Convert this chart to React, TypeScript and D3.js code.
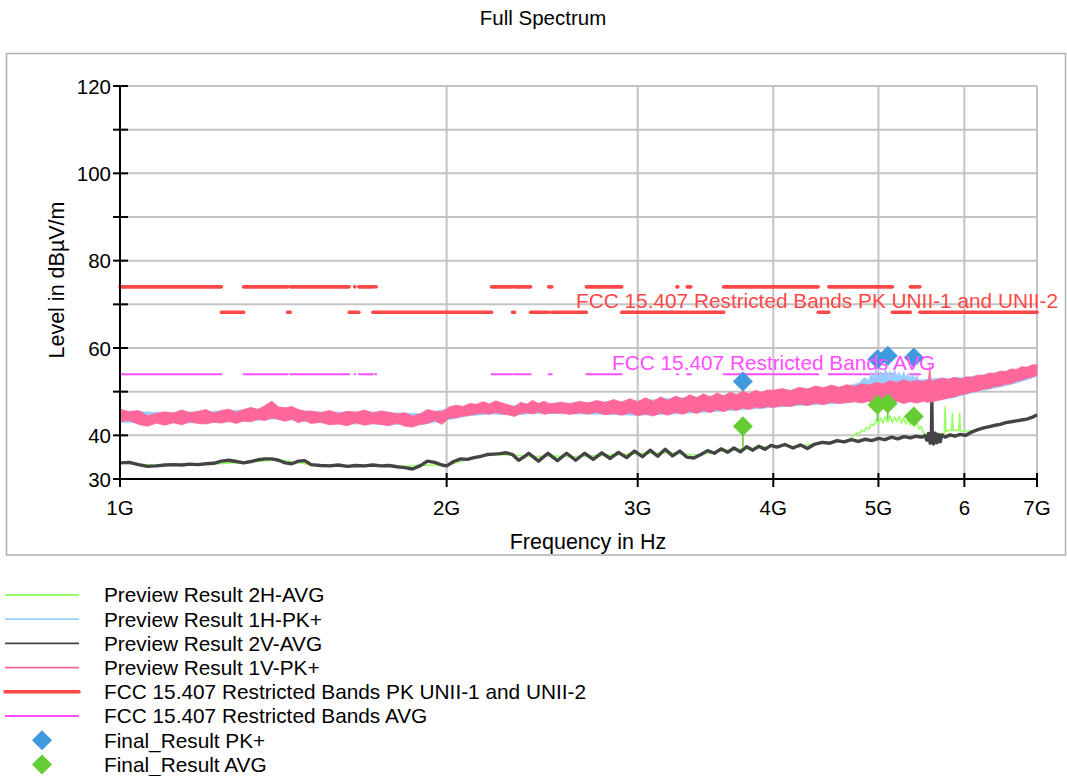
import React from "react";
import * as d3 from "d3";

// ---------- data ----------
const TITLE = "Full Spectrum";
const X_TITLE = "Frequency in Hz";
const Y_TITLE = "Level in dBµV/m";
const X_TICKS_HZ = [1e9, 2e9, 3e9, 4e9, 5e9, 6e9, 7e9];
const X_TICK_LABELS = ["1G", "2G", "3G", "4G", "5G", "6", "7G"];
const Y_TICKS = [30, 40, 50, 60, 70, 80, 90, 100, 110, 120];
const Y_LABELED = [30, 40, 60, 80, 100, 120];

// FCC 15.205 restricted bands (GHz)
const RESTRICTED_BANDS_GHZ: [number, number][] = [
  [0.96, 1.24], [1.3, 1.427], [1.435, 1.6265], [1.6455, 1.6465], [1.66, 1.71],
  [1.7188, 1.7222], [2.2, 2.3], [2.31, 2.39], [2.4835, 2.5], [2.69, 2.9],
  [3.26, 3.267], [3.332, 3.339], [3.3458, 3.358], [3.6, 4.4], [4.5, 5.15],
  [5.35, 5.46], [7.25, 7.75],
];
const PK_LIMIT_RESTRICTED = 74;
const PK_LIMIT_UNII = 68.2;
const AVG_LIMIT = 54;
const PK_LIMIT_LABEL = "FCC 15.407 Restricted Bands PK UNII-1 and UNII-2";
const AVG_LIMIT_LABEL = "FCC 15.407 Restricted Bands AVG";

// Preview Result 1V-PK+  [MHz, low, high]
const PINK_1V_PK: [number, number, number][] = [
  [1000,43.2,46.0],[1020,43.4,45.4],[1040,42.5,45.7],[1060,42.1,44.5],[1080,42.8,45.0],[1100,42.3,45.4],
  [1120,42.9,45.1],[1140,42.4,45.8],[1160,43.1,45.2],[1180,42.7,45.5],[1200,42.6,45.9],[1220,43.0,45.1],
  [1240,42.8,45.7],[1260,43.2,46.0],[1280,42.7,45.3],[1300,43.3,45.9],[1320,43.1,46.4],[1340,43.7,45.9],
  [1360,43.4,46.8],[1380,44.0,47.8],[1400,43.6,46.5],[1420,43.2,46.3],[1440,43.7,46.6],[1460,42.9,45.9],
  [1480,43.4,45.5],[1500,42.7,45.6],
  [1530,43.0,45.2],[1560,42.4,45.7],[1590,42.6,45.0],[1620,42.2,45.5],[1650,42.9,45.3],[1680,42.3,45.8],
  [1710,42.7,45.1],[1740,42.5,45.6],[1770,42.2,45.3],[1800,42.8,44.9],[1830,42.1,45.2],[1860,41.9,44.4],
  [1890,42.5,44.9],[1920,42.7,45.9],[1950,43.4,45.5],[1980,42.5,45.4],[2010,43.9,46.5],[2040,44.0,46.9],
  [2070,44.4,46.6],[2100,44.6,47.3],[2130,44.9,47.1],[2160,45.1,47.7],[2190,44.8,47.2],[2220,45.3,47.9],
  [2250,44.9,47.4],[2280,44.7,47.0],[2310,44.3,46.5],[2340,45.0,47.6],[2370,45.2,47.1],[2400,44.9,48.0],
  [2430,45.4,47.3],[2460,44.8,47.8],[2490,45.1,47.2],
  [2550,45.1,47.6],[2600,44.8,47.2],[2650,45.2,47.8],[2700,44.9,47.4],[2750,45.3,48.0],[2800,44.7,47.5],
  [2850,45.0,48.2],[2900,44.6,47.6],[2950,45.2,48.4],[3000,44.5,47.7],[3050,44.9,48.6],[3100,44.4,47.8],
  [3150,45.1,48.8],[3200,44.6,48.0],[3250,45.3,49.0],[3300,44.8,48.3],[3350,45.5,49.3],[3400,45.0,48.6],
  [3450,45.7,49.5],[3500,45.2,48.8],[3550,45.9,49.7],[3600,45.4,49.0],[3650,46.1,49.9],[3700,45.7,49.3],
  [3750,46.3,50.1],[3800,45.9,49.5],[3850,46.5,50.3],[3900,46.2,49.8],[3950,46.6,50.4],
  [4000,46.4,50.3],[4075,46.8,50.7],[4150,46.6,50.2],[4225,47.2,51.0],[4300,46.8,50.6],[4375,47.4,51.3],
  [4450,47.0,50.9],[4525,47.6,51.5],[4600,47.3,51.0],[4675,47.5,51.6],[4750,47.7,51.2],[4825,47.4,51.8],
  [4900,47.8,51.5],[4975,47.3,52.1],[5050,47.7,51.8],[5125,47.4,52.5],[5200,47.8,52.1],[5275,47.3,52.7],
  [5350,47.7,52.2],[5425,47.4,52.6],[5500,47.8,52.3],[5560,47.5,52.8],[5575,47.8,55.8],[5590,47.6,52.4],
  [5650,47.9,52.7],[5725,48.2,53.1],[5800,48.6,52.8],[5875,48.8,53.3],[5950,49.3,52.9],[6025,49.5,53.4],
  [6100,50.0,53.3],[6175,50.1,53.8],[6250,50.6,53.7],[6325,50.7,54.3],[6400,51.2,54.2],[6475,51.3,54.7],
  [6550,51.7,54.6],[6625,51.8,55.2],[6700,52.4,55.1],[6775,52.6,55.7],[6850,53.1,55.6],[6925,53.3,56.1],
  [7000,53.8,56.2],
];

// Preview Result 1H-PK+  [MHz, low, high]
const BLUE_1H_PK: [number, number, number][] = [
  [1000,43.0,45.6],[1100,42.8,45.2],[1200,42.9,45.4],[1300,43.2,45.8],[1400,43.8,46.5],[1500,43.0,45.4],
  [1600,42.6,45.3],[1700,42.6,45.4],[1800,42.5,45.1],[1900,42.5,45.0],[2000,43.5,46.0],[2100,44.5,46.8],
  [2200,44.9,47.1],[2300,44.6,46.8],[2400,45.0,47.4],[2500,45.0,47.3],[2600,44.9,47.4],[2800,44.8,47.7],
  [3000,44.6,47.9],[3200,44.8,48.4],[3400,45.2,48.8],[3600,45.6,49.2],[3800,46.0,49.6],[4000,46.4,50.0],
  [4200,46.8,50.5],[4400,47.1,50.8],[4600,47.3,51.0],[4700,47.5,51.4],[4800,47.8,52.0],[4850,48.0,53.2],
  [4900,48.2,52.6],[4925,48.3,54.4],[4950,48.5,53.1],[4975,48.5,54.9],[5000,48.8,53.3],[5025,48.7,54.6],
  [5050,48.6,53.5],[5075,48.8,55.2],[5100,48.9,53.6],[5125,48.8,54.8],[5150,48.7,53.4],[5175,48.8,54.9],
  [5200,48.8,53.6],[5225,48.6,54.5],[5250,48.5,53.3],[5275,48.6,54.6],[5300,48.7,53.2],[5325,48.5,54.2],
  [5350,48.4,53.0],[5375,48.5,54.0],[5400,48.6,53.0],[5425,48.4,53.6],[5450,48.3,52.6],[5500,48.0,52.8],
  [5600,48.0,52.9],[5700,48.2,53.1],[5800,48.4,53.0],[5900,48.8,53.3],[6000,49.3,53.1],[6100,49.7,53.5],
  [6300,50.5,54.0],[6500,51.2,54.5],[6700,52.0,55.0],[7000,53.5,55.8],
];

// Preview Result 2V-AVG  [MHz, level]
const DARK_2V_AVG: [number, number][] = [
  [1000,33.7],[1020,33.8],[1040,33.3],[1060,32.9],[1080,33.0],[1100,33.2],[1120,33.3],[1140,33.2],
  [1160,33.4],[1180,33.3],[1200,33.5],[1220,33.6],[1240,34.1],[1260,34.3],[1280,34.0],[1300,33.7],
  [1320,34.0],[1340,34.4],[1360,34.6],[1380,34.6],[1400,34.3],[1420,33.7],[1440,33.5],[1460,34.1],
  [1480,34.2],[1500,33.3],[1530,33.1],[1560,33.0],[1590,33.2],[1620,32.9],[1650,33.1],[1680,33.0],
  [1710,33.2],[1740,33.0],[1770,33.1],[1800,32.8],[1830,32.6],[1860,32.3],[1890,33.0],[1920,34.1],
  [1950,33.8],[1980,33.2],[2000,33.0],[2030,34.0],[2060,34.6],[2090,34.5],[2120,34.9],[2150,35.2],
  [2180,35.6],[2210,35.7],[2240,35.8],[2270,36.0],[2300,35.6],[2330,34.3],[2355,35.0],[2380,35.9],
  [2405,35.0],[2430,34.1],[2455,35.0],[2480,35.9],[2505,35.0],[2530,34.2],
  [2580,35.9],[2630,34.3],[2680,35.9],[2730,34.5],[2780,36.0],[2830,34.7],[2880,36.1],[2930,34.9],
  [2980,36.4],[3030,35.1],[3080,36.6],[3130,35.2],[3180,36.8],[3230,35.3],[3280,36.4],[3330,35.0],
  [3380,34.8],[3430,35.6],[3480,36.5],[3530,35.9],[3580,36.9],[3630,36.1],[3680,37.1],[3730,36.2],
  [3780,37.4],[3830,36.6],[3880,37.5],[3930,36.8],[3980,37.7],
  [4030,37.3],[4100,37.9],[4170,37.1],[4240,37.8],[4300,37.0],[4370,38.0],[4440,38.4],[4510,38.2],
  [4580,38.8],[4650,38.5],[4720,39.0],[4790,38.6],[4860,39.1],[4930,38.8],[5000,39.3],[5070,39.0],
  [5140,39.6],[5210,39.2],[5280,39.7],[5350,39.4],[5420,39.8],[5480,39.6],[5520,39.9],[5540,38.9],
  [5560,40.4],[5580,38.2],[5595,40.3],[5600,47.7],[5605,40.0],[5620,38.0],[5640,40.5],[5660,38.3],
  [5680,40.2],[5700,38.5],[5720,40.1],[5760,39.6],[5820,40.1],[5880,39.8],[5950,40.2],[6020,40.0],
  [6100,40.8],[6175,41.3],[6250,41.7],[6325,42.0],[6400,42.3],[6475,42.5],[6550,42.9],[6625,43.1],
  [6700,43.3],[6775,43.5],[6850,43.7],[6925,44.1],[7000,44.7],
];

// Preview Result 2H-AVG  [MHz, level]
const GREEN_2H_AVG: [number, number][] = [
  [1000,33.6],[1100,33.1],[1200,33.4],[1300,33.8],[1400,34.4],[1500,33.3],[1600,33.0],[1700,33.1],
  [1800,32.8],[1900,33.2],[2000,33.1],[2100,34.6],[2200,35.6],[2300,35.5],[2400,35.1],[2500,35.3],
  [2600,35.1],[2800,35.4],[3000,35.8],[3200,36.0],[3400,35.5],[3600,36.5],[3800,37.0],[4000,37.5],
  [4200,37.5],[4400,38.2],[4600,38.6],[4700,39.0],[4750,40.0],[4775,40.6],[4800,40.3],[4825,41.2],
  [4850,40.9],[4875,41.8],[4900,41.4],[4925,42.6],[4950,42.2],[4975,43.6],[5000,42.6],[5025,44.0],
  [5050,42.8],[5075,44.3],[5100,43.0],[5125,44.5],[5150,42.9],[5175,44.2],[5200,43.1],[5225,44.4],
  [5250,42.8],[5275,44.0],[5300,42.6],[5325,43.7],[5350,42.4],[5375,43.4],[5400,42.0],[5425,43.0],
  [5450,41.5],[5475,42.0],[5500,40.6],[5550,39.8],[5650,39.6],[5750,40.6],[5760,46.5],[5770,40.8],
  [5800,41.1],[5840,41.2],[5850,45.0],[5860,41.1],[5930,41.2],[5940,45.1],[5950,41.0],[6050,41.0],
  [6100,40.9],[6200,41.6],[6400,42.4],[6600,43.1],[6800,43.5],[7000,44.6],
];

// Final results
const FINAL_FREQ_MHZ = [3750, 4990, 5100, 5390];
const FINAL_PK = [52.3, 57.4, 58.2, 57.8];
const FINAL_PK_STEM = [51.0, 55.5, 56.0, 55.5];
const FINAL_AVG = [42.1, 47.0, 47.3, 44.3];
const FINAL_AVG_STEM = [37.4, 43.3, 43.8, 42.8];

const LEGEND_ITEMS = [
  { label: "Preview Result 2H-AVG", color: "#99ff66", kind: "line" },
  { label: "Preview Result 1H-PK+", color: "#99ccff", kind: "line" },
  { label: "Preview Result 2V-AVG", color: "#444444", kind: "line" },
  { label: "Preview Result 1V-PK+", color: "#ff6699", kind: "line" },
  { label: "FCC 15.407 Restricted Bands PK UNII-1 and UNII-2", color: "#ff4747", kind: "thick" },
  { label: "FCC 15.407 Restricted Bands AVG", color: "#ff4dff", kind: "line" },
  { label: "Final_Result PK+", color: "#3f99dd", kind: "diamond" },
  { label: "Final_Result AVG", color: "#66cc33", kind: "diamond" },
];

// ---------- styles ----------
const FONT = "'Liberation Sans', Arial, Helvetica, sans-serif";
const C = {
  pink: "#ff6699", blue: "#99ccff", dark: "#444444", green: "#99ff66",
  red: "#ff4747", magenta: "#ff4dff", dBlue: "#3f99dd", dGreen: "#66cc33",
  grid: "#c4c4c4", frame: "#b0b0b0",
};

function diamond(cx: number, cy: number, r: number) {
  return `M${cx},${cy - r}L${cx + r},${cy}L${cx},${cy + r}L${cx - r},${cy}Z`;
}

export default function App() {
  const W = 1067, H = 776;
  const x = d3.scaleLog().domain([1e9, 7e9]).range([120, 1037]);
  const y = d3.scaleLinear().domain([30, 120]).range([479, 86]);
  const fx = (mhz: number) => x(mhz * 1e6);

  const band = d3.area<[number, number, number]>()
    .x(d => fx(d[0])).y0(d => y(d[1])).y1(d => y(d[2]));
  const line = d3.line<[number, number]>().x(d => fx(d[0])).y(d => y(d[1]));

  const restricted = RESTRICTED_BANDS_GHZ
    .map(([a, b]) => [Math.max(a, 1), Math.min(b, 7)] as [number, number])
    .filter(([a, b]) => a < b);
  const unii: [number, number][] = [];
  let cur = 1;
  for (const [a, b] of restricted) {
    if (a > cur) unii.push([cur, a]);
    cur = Math.max(cur, b);
  }
  if (cur < 7) unii.push([cur, 7]);

  const x0 = x.range()[0], x1 = x.range()[1];
  const yb = y.range()[0], yt = y.range()[1];

  return (
    <svg width={W} height={H} style={{ position: "absolute", left: 0, top: 0, background: "#fff" }}
      fontFamily={FONT}>
      <rect x={0} y={0} width={W} height={H} fill="#fff" />
      <text x={543} y={25} textAnchor="middle" fontSize={20.5} fill="#000">{TITLE}</text>
      <rect x={6.5} y={53.5} width={1059} height={501.5} fill="none" stroke={C.frame} strokeWidth={1.5} />

      {/* grid */}
      {Y_TICKS.map(t => (
        <line key={"gy" + t} x1={x0} x2={x1} y1={y(t)} y2={y(t)} stroke={C.grid} strokeWidth={2} />
      ))}
      {X_TICKS_HZ.slice(1).map(t => (
        <line key={"gx" + t} x1={x(t)} x2={x(t)} y1={yt} y2={yb} stroke={C.grid} strokeWidth={2} />
      ))}

      {/* limit lines */}
      {restricted.map(([a, b], i) => (
        <line key={"pr" + i} x1={x(a * 1e9)} x2={x(b * 1e9)} y1={y(PK_LIMIT_RESTRICTED)} y2={y(PK_LIMIT_RESTRICTED)}
          stroke={C.red} strokeWidth={3.6} strokeLinecap="round" />
      ))}
      {unii.map(([a, b], i) => (
        <line key={"pu" + i} x1={x(a * 1e9)} x2={x(b * 1e9)} y1={y(PK_LIMIT_UNII)} y2={y(PK_LIMIT_UNII)}
          stroke={C.red} strokeWidth={3.6} strokeLinecap="round" />
      ))}
      {restricted.map(([a, b], i) => (
        <line key={"av" + i} x1={x(a * 1e9)} x2={x(b * 1e9)} y1={y(AVG_LIMIT)} y2={y(AVG_LIMIT)}
          stroke={C.magenta} strokeWidth={2} strokeLinecap="round" />
      ))}

      {/* traces */}
      <path d={line(GREEN_2H_AVG) || ""} fill="none" stroke={C.green} strokeWidth={1.6} strokeLinejoin="round" />
      <path d={band(BLUE_1H_PK) || ""} fill={C.blue} stroke={C.blue} strokeWidth={0.8} />
      <path d={line(DARK_2V_AVG) || ""} fill="none" stroke={C.dark} strokeWidth={3.4} strokeLinejoin="round" />
      <path d={band(PINK_1V_PK) || ""} fill={C.pink} stroke={C.pink} strokeWidth={0.8} />

      {/* final results */}
      {FINAL_FREQ_MHZ.map((f, i) => (
        <line key={"sp" + i} x1={fx(f)} x2={fx(f)} y1={y(FINAL_PK[i])} y2={y(FINAL_PK_STEM[i])}
          stroke={C.dBlue} strokeWidth={1.6} />
      ))}
      {FINAL_FREQ_MHZ.map((f, i) => (
        <line key={"sa" + i} x1={fx(f)} x2={fx(f)} y1={y(FINAL_AVG[i])} y2={y(FINAL_AVG_STEM[i])}
          stroke={C.dGreen} strokeWidth={1.6} />
      ))}
      {FINAL_FREQ_MHZ.map((f, i) => (
        <path key={"dp" + i} d={diamond(fx(f), y(FINAL_PK[i]), 10)} fill={C.dBlue} />
      ))}
      {FINAL_FREQ_MHZ.map((f, i) => (
        <path key={"da" + i} d={diamond(fx(f), y(FINAL_AVG[i]), 10)} fill={C.dGreen} />
      ))}

      {/* limit labels */}
      <text x={1058} y={y(PK_LIMIT_UNII) - 4.5} textAnchor="end" fontSize={20.8} fill={C.red}>{PK_LIMIT_LABEL}</text>
      <text x={612} y={y(AVG_LIMIT) - 4} textAnchor="start" fontSize={20.8} fill={C.magenta}>{AVG_LIMIT_LABEL}</text>

      {/* axes */}
      <line x1={x0} x2={x0} y1={yt} y2={yb + 8} stroke="#000" strokeWidth={2} />
      <line x1={x0} x2={x1} y1={yb} y2={yb} stroke="#000" strokeWidth={2} />
      {Y_TICKS.map(t => (
        <line key={"ty" + t} x1={x0 - 7} x2={x0 + 8} y1={y(t)} y2={y(t)} stroke="#000" strokeWidth={2} />
      ))}
      {Y_LABELED.map(t => (
        <text key={"ly" + t} x={111} y={y(t) + 7.5} textAnchor="end" fontSize={20.5} fill="#000">{t}</text>
      ))}
      {X_TICKS_HZ.map(t => (
        <line key={"tx" + t} x1={x(t)} x2={x(t)} y1={yb - 6} y2={yb + 8} stroke="#000" strokeWidth={2} />
      ))}
      {X_TICKS_HZ.map((t, i) => (
        <text key={"lx" + t} x={x(t)} y={515} textAnchor="middle" fontSize={20.5} fill="#000">{X_TICK_LABELS[i]}</text>
      ))}
      <text x={588} y={549} textAnchor="middle" fontSize={21.5} fill="#000">{X_TITLE}</text>
      <text transform="translate(64,280) rotate(-90)" textAnchor="middle" fontSize={21.5} fill="#000">{Y_TITLE}</text>

      {/* legend */}
      {LEGEND_ITEMS.map((it, i) => {
        const cy = 595 + i * 24.2;
        return (
          <g key={"lg" + i}>
            {it.kind === "diamond" ? (
              <path d={diamond(42, cy, 10)} fill={it.color} />
            ) : (
              <line x1={5} x2={79} y1={cy} y2={cy} stroke={it.color}
                strokeWidth={it.kind === "thick" ? 3.6 : 1.8} strokeLinecap={it.kind === "thick" ? "round" : "butt"} />
            )}
            <text x={104} y={cy + 7.3} fontSize={20.8} fill="#000">{it.label}</text>
          </g>
        );
      })}
    </svg>
  );
}
